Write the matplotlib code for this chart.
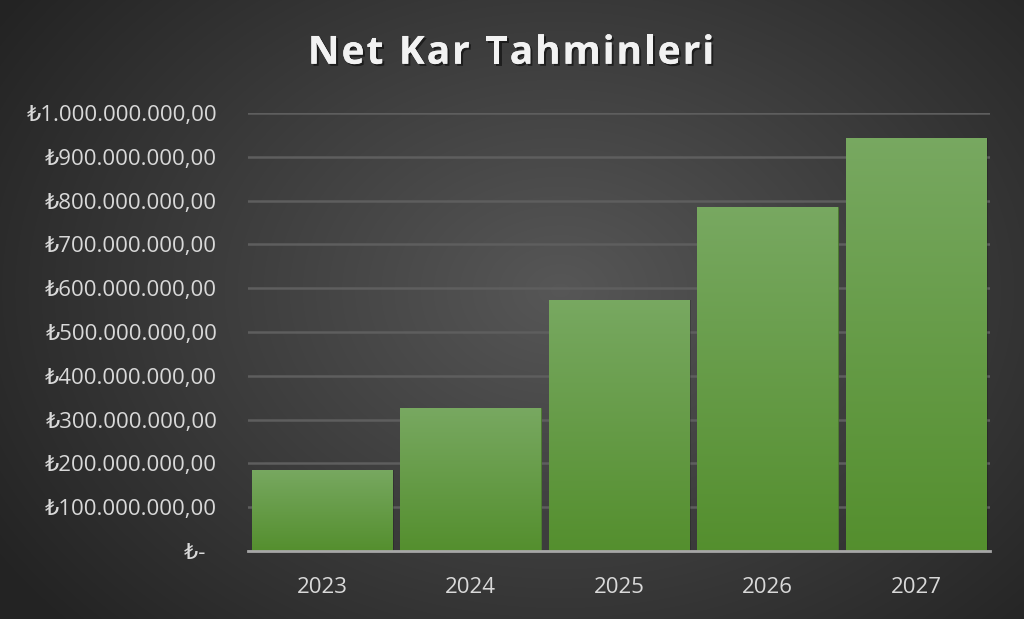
import numpy as np
import matplotlib
matplotlib.use("Agg")
import matplotlib.pyplot as plt
import matplotlib.patheffects as pe

years = ["2023", "2024", "2025", "2026", "2027"]
net_kar = [185e6, 326e6, 573e6, 785e6, 943e6]
title = "Net Kar Tahminleri"

plt.rcParams['font.family'] = ['Open Sans', 'DejaVu Sans']

def tl(v, pos=None):
    if v == 0:
        return "₺-  "
    s = f"{int(round(v)):,}".replace(",", ".")
    return "₺" + s + ",00"

fig = plt.figure(figsize=(10.24, 6.19), dpi=100)

# radial background
bg = fig.add_axes([0, 0, 1, 1], zorder=-10)
yy, xx = np.mgrid[0:619, 0:1024]
d = np.sqrt(((xx - 560) / 700.0) ** 2 + ((yy - 290) / 520.0) ** 2)
g = np.clip(0.34 - 0.21 * d, 0.14, 0.34)
bg.imshow(np.dstack([g, g, g]), aspect="auto", extent=[0, 1, 0, 1])
bg.set_axis_off()

ax = fig.add_axes([0.242, 0.1098, 0.725, 0.7076])
ax.patch.set_alpha(0)
x = np.arange(len(years))
bars = ax.bar(x, net_kar, width=0.945, color="#62993e", edgecolor="#4e7f30", linewidth=0.6, zorder=3)
ax.set_xlim(-0.5, len(years) - 0.5)
ax.set_ylim(0, 1e9)

# vertical gradient on each bar
grad = np.linspace(0, 1, 256).reshape(-1, 1)
top = np.array([0.47, 0.66, 0.38])
bot = np.array([0.33, 0.56, 0.18])
cols = top[None, None, :] * (1 - grad[:, :, None]) + bot[None, None, :] * grad[:, :, None]
for b in bars:
    x0, w, h = b.get_x(), b.get_width(), b.get_height()
    im = ax.imshow(cols, extent=[x0, x0 + w, 0, h], aspect="auto", zorder=4)
    im.set_clip_path(b)
    # soft shadow
    ax.bar(b.get_x() + w / 2 + 0.012, h, width=w, color="black", alpha=0.18, zorder=2)

ax.set_yticks(np.arange(0, 1.01e9, 1e8))
ax.yaxis.set_major_formatter(plt.FuncFormatter(tl))
ax.set_xticks(x)
ax.set_xticklabels(years)
ax.grid(axis="y", color="#5e5e5e", linewidth=1.8, zorder=0)
ax.tick_params(axis="both", length=0, labelsize=16, colors="#d9d9d9")
ax.tick_params(axis="x", pad=19)
ax.tick_params(axis="y", pad=22)
for s in ["top", "right", "left"]:
    ax.spines[s].set_visible(False)
ax.spines["bottom"].set_color("#a6a6a6")
ax.spines["bottom"].set_linewidth(2)
ax.spines["bottom"].set_zorder(5)

# title with letter spacing, drawn char by char
r = fig.canvas.get_renderer()
tkw = dict(fontsize=28, fontweight="bold", color="#f2f2f2", va="center", ha="left",
           path_effects=[pe.withSimplePatchShadow(offset=(1.5, -1.5), shadow_rgbFace="black", alpha=0.5), pe.Normal()])
spacing = 2.0  # px
widths = []
for ch in title:
    t = fig.text(0, 0, ch if ch != " " else "n", **tkw)
    wdt = t.get_window_extent(r).width
    if ch == " ":
        wdt *= 0.45
    widths.append(wdt)
    t.remove()
total = sum(widths) + spacing * (len(title) - 1)
cx = 511 - total / 2
for ch, wdt in zip(title, widths):
    if ch != " ":
        fig.text(cx / 1024, 0.914, ch, **tkw)
    cx += wdt + spacing

fig.savefig("out.png", dpi=100)
